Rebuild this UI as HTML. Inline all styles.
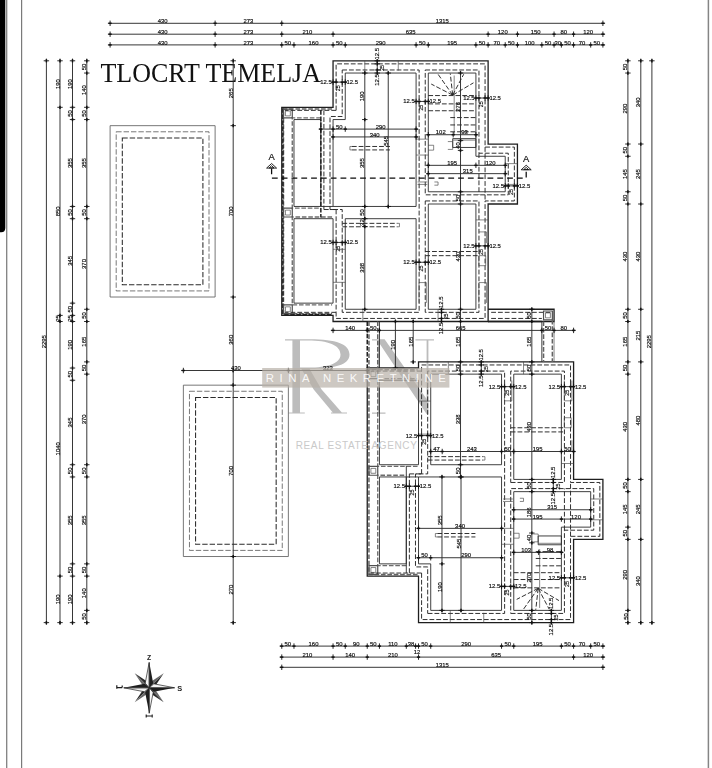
<!DOCTYPE html>
<html lang="hr"><head><meta charset="utf-8"><title>Tlocrt temelja</title>
<style>
html,body{margin:0;padding:0;background:#fff;}
body{width:712px;height:768px;overflow:hidden;font-family:"Liberation Sans",sans-serif;}
svg{display:block;}
.t{font-family:"Liberation Sans",sans-serif;fill:#111;stroke:#111;stroke-width:0.18;}
.tb{font-family:"Liberation Sans",sans-serif;fill:#1c1c1c;font-weight:bold;}
.so{fill:none;stroke:#1e1e1e;stroke-width:1.3;}
.si{fill:none;stroke:#2a2a2a;stroke-width:0.9;}
.th{fill:none;stroke:#444;stroke-width:0.65;}
.ds{fill:none;stroke:#262626;stroke-width:0.95;stroke-dasharray:4.8 2;}
.dk{fill:none;stroke:#222;stroke-width:1.5;stroke-dasharray:4.5 1.6;}
.gd{fill:none;stroke:#636363;stroke-width:1.5;stroke-dasharray:4.6 1.8;}
.gd2{fill:none;stroke:#6c6c6c;stroke-width:1.35;stroke-dasharray:4.6 1.8;}
.gs{fill:none;stroke:#505050;stroke-width:1.2;}
.dl{fill:none;stroke:#2c2c2c;stroke-width:0.95;}
.tk{fill:none;stroke:#111;stroke-width:0.9;}
.tk2{fill:none;stroke:#111;stroke-width:1.5;}
.po{fill:none;stroke:#555;stroke-width:0.8;}
.pd1{fill:none;stroke:#555;stroke-width:0.8;stroke-dasharray:5.4 2;}
.pd2{fill:none;stroke:#2a2a2a;stroke-width:1.05;stroke-dasharray:5.4 2;}
</style></head>
<body>
<svg width="712" height="768" viewBox="0 0 712 768">
<rect x="0" y="0" width="712" height="768" fill="#fff"/>
<g id="wm">
<g fill="#bcbcbc">
<path d="M285 339.2 H310 C336 339.2 349.5 344 349.5 354.5 C349.5 365 334 368.8 310 368.8 L300 368.8 V412.4 H304.8 V413.6 H288.6 V412.4 H292.4 V340.4 H285 Z M300 340.4 V367.6 H308 C328 367.6 340.5 363.5 340.5 354.5 C340.5 345 328 340.4 308 340.4 Z"/>
<path d="M301 368.6 H309.5 Q314 377 321.6 389.5 L341.8 412.4 H347 V413.6 H331 V412.4 H332.8 L313.7 389.5 Q307 378 301 368.6 Z"/>
<path d="M372 339.2 H383 V340.4 H372 Z M377.8 339.2 H379.5 V413.6 H377.8 Z M372 412.5 H385.5 V413.7 H372 Z M376.7 339.2 H384.6 L428.4 401.5 V414 H426.6 Z M426.6 339.2 H428.4 V414 H426.6 Z M415.4 339.2 H434 V340.4 H415.4 Z"/>
</g>
</g>
<g style="filter:grayscale(1)">
<g id="frame">
<path d="M0 0 H5.3 V228 Q5.3 232.2 1.2 232.2 H0 Z" fill="#000"/>
<path d="M6.7 0 V768" stroke="#808080" stroke-width="1.3" fill="none"/>
<path d="M21.6 0 V768" stroke="#7a7a7a" stroke-width="1.2" fill="none"/>
<path d="M708.4 0 V768" stroke="#858585" stroke-width="1.5" fill="none"/>
</g>
<text x="100.4" y="82.2" font-family="Liberation Serif, serif" font-size="27.5" fill="#111" textLength="220.5" lengthAdjust="spacingAndGlyphs">TLOCRT TEMELJA</text>
<path class="po" d="M110.1 125.67 L215.11 125.67 L215.11 297.03 L110.1 297.03 Z"/>
<path class="pd1" d="M116.2 131.79 L209 131.79 L209 290.91 L116.2 290.91 Z"/>
<path class="pd2" d="M122.31 137.91 L202.9 137.91 L202.9 284.79 L122.31 284.79 Z"/>
<path class="po" d="M183.36 385.16 L288.37 385.16 L288.37 556.52 L183.36 556.52 Z"/>
<path class="pd1" d="M189.46 391.28 L282.26 391.28 L282.26 550.4 L189.46 550.4 Z"/>
<path class="pd2" d="M195.57 397.4 L276.16 397.4 L276.16 544.28 L195.57 544.28 Z"/>
<g id="upper">
<g>
<path class="gd" d="M332.08 109.03 L283.48 109.03 L283.48 313.68 L332.08 313.68"/>
<path class="gd2" d="M320.84 117.84 L292.27 117.84 L292.27 208.17 L320.84 208.17"/>
<path class="gd2" d="M332.08 216.98 L292.27 216.98 L292.27 304.87 L332.08 304.87"/>
<path class="dk" d="M282.87 108.29 L282.87 314.41 L332.08 314.41"/>
<path class="gs" d="M283.48 109.03 L292.27 109.03 L292.27 117.84 L283.48 117.84 Z"/>
<path class="th" d="M285.44 110.98 L290.32 110.98 L290.32 115.88 L285.44 115.88 Z"/>
<path class="gs" d="M283.48 208.17 L292.27 208.17 L292.27 216.98 L283.48 216.98 Z"/>
<path class="th" d="M285.44 210.13 L290.32 210.13 L290.32 215.02 L285.44 215.02 Z"/>
<path class="gs" d="M283.48 304.87 L292.27 304.87 L292.27 313.68 L283.48 313.68 Z"/>
<path class="th" d="M285.44 306.82 L290.32 306.82 L290.32 311.72 L285.44 311.72 Z"/>
</g>
<path class="ds" d="M336.11 110.37 L336.11 63.86 L485.07 63.86 L485.07 147.09 L514.37 147.09 L514.37 200.95 L485.07 200.95 L485.07 318.45 L336.11 318.45 L336.11 312.33"/>
<path class="ds" d="M336.11 110.37 L284.83 110.37"/>
<path class="ds" d="M336.11 312.33 L284.83 312.33"/>
<path class="ds" d="M342.21 69.98 L419.14 69.98 L419.14 312.33 L342.21 312.33 L342.21 209.52 L330 209.52 L330 116.49 L342.21 116.49 Z"/>
<path class="ds" d="M323.9 209.52 L336.11 209.52"/>
<path class="ds" d="M425.24 69.98 L478.96 69.98 L478.96 153.21 L508.27 153.21 L508.27 194.83 L425.24 194.83 Z"/>
<path class="ds" d="M425.24 200.95 L478.96 200.95 L478.96 312.33 L425.24 312.33 Z"/>
<path class="ds" d="M323.9 110.37 L323.9 209.52"/>
<path class="ds" d="M336.11 209.52 L336.11 312.33"/>
<path class="ds" d="M478.96 153.21 L478.96 194.83"/>
<path class="ds" d="M485.07 147.09 L485.07 200.95"/>
<path class="so" d="M281.77 107.31 L333.05 107.31 L333.05 60.8 L488.12 60.8 L488.12 144.03 L517.43 144.03 L517.43 204.01 L488.12 204.01 L488.12 321.51 L333.05 321.51 L333.05 315.39 L281.77 315.39 Z"/>
<path class="si" d="M345.26 73.04 L416.08 73.04 L416.08 206.46 L333.05 206.46 L333.05 119.55 L345.26 119.55 Z"/>
<path class="si" d="M345.26 218.7 L416.08 218.7 L416.08 309.27 L345.26 309.27 Z"/>
<path class="si" d="M428.29 73.04 L475.91 73.04 L475.91 156.27 L505.22 156.27 L505.22 191.77 L428.29 191.77 Z"/>
<path class="si" d="M428.29 204.01 L475.91 204.01 L475.91 309.27 L428.29 309.27 Z"/>
<path class="si" d="M293.98 119.55 L320.84 119.55 L320.84 206.46 L293.98 206.46 Z"/>
<path class="si" d="M293.98 218.7 L333.05 218.7 L333.05 303.15 L293.98 303.15 Z"/>
<path class="dk" d="M320.84 110.37 L320.84 217.47"/>
<path class="si" d="M320.84 206.46 L333.05 206.46"/>
<path class="th" d="M416.08 139.14 L428.29 139.14"/>
<path class="th" d="M416.08 155.05 L428.29 155.05"/>
<path class="th" d="M475.91 219.92 L488.12 219.92"/>
<path class="th" d="M333.05 249.3 L345.26 249.3"/>
<path class="th" d="M333.05 282.34 L345.26 282.34"/>
<path class="th" d="M364.8 60.8 L364.8 73.04"/>
<path class="th" d="M398.26 60.8 L398.26 70.59"/>
<path class="th" d="M362.85 309.27 L362.85 321.51"/>
<path class="th" d="M438.06 309.27 L438.06 321.51"/>
<path class="th" d="M478.84 231.92 L486.41 231.92 L486.41 243.18"/>
<path class="th" d="M478.84 255.66 L485.68 255.66 L485.68 265.7 L478.84 265.7 Z"/>
<path class="th" d="M478.84 302.91 L478.84 282.59 L486.41 282.59 L486.41 302.91"/>
<path class="th" d="M419.01 302.91 L419.01 282.59 L426.34 282.59 L426.34 302.91"/>
<path class="ds" d="M351.86 146.48 L389.95 146.48"/>
<path class="ds" d="M351.86 149.91 L389.95 149.91"/>
<path class="th" d="M351.86 146.48 L349.9 146.48 L349.9 149.91 L351.86 149.91"/>
<path class="ds" d="M342.33 223.35 L397.52 223.35"/>
<path class="ds" d="M342.33 226.77 L397.52 226.77"/>
<path class="th" d="M397.52 223.35 L399.48 223.35 L399.48 226.77 L397.52 226.77"/>
<path class="ds" d="M425.24 251.5 L478.96 251.5"/>
<path class="ds" d="M425.24 255.66 L478.96 255.66"/>
<path class="ds" d="M452.71 95.07 L431.22 84.06"/>
<path class="ds" d="M452.71 95.07 L438.06 74.26"/>
<path class="ds" d="M452.71 95.07 L450.27 73.53"/>
<path class="ds" d="M452.71 95.07 L463.7 74.26"/>
<path class="ds" d="M452.71 95.07 L473.47 82.83"/>
<path class="th" d="M454.18 75.49 L454.18 134.24"/>
<path class="ds" d="M428.29 95.56 L475.91 95.56"/>
<path class="ds" d="M428.29 103.88 L475.91 103.88"/>
<path class="ds" d="M428.29 110.74 L475.91 110.74"/>
<path class="ds" d="M450.27 117.59 L475.91 117.59"/>
<path class="ds" d="M450.27 124.94 L475.91 124.94"/>
<path class="ds" d="M450.27 131.79 L475.91 131.79"/>
<path class="si" d="M452.71 138.65 L475.91 138.65 L475.91 147.46 L452.71 147.46 Z"/>
<path class="th" d="M452.71 140.12 L475.91 140.12"/>
<path class="th" d="M447.83 141.58 L452.71 141.58 L452.71 149.42 L447.83 149.42"/>
<path class="th" d="M428.29 145.26 L433.66 145.26 L433.66 150.15 L428.29 150.15"/>
<path class="th" d="M417.55 181.98 L427.32 181.98"/>
<path class="th" d="M417.55 184.42 L427.32 184.42"/>
<path class="th" d="M434.4 181.98 L438.06 181.98 L438.06 185.16 L434.4 185.16"/>
<path class="th" d="M505.22 163.62 L517.43 163.62"/>
<path class="th" d="M505.22 184.42 L517.43 184.42"/>
</g>
<g id="lower">
<g>
<path class="gd" d="M417.55 574.39 L368.95 574.39 L368.95 369.74 L417.55 369.74"/>
<path class="gd2" d="M406.31 565.58 L377.74 565.58 L377.74 475.25 L406.31 475.25"/>
<path class="gd2" d="M417.55 466.43 L377.74 466.43 L377.74 378.55 L417.55 378.55"/>
<path class="gs" d="M368.95 574.39 L377.74 574.39 L377.74 565.58 L368.95 565.58 Z"/>
<path class="th" d="M370.91 572.43 L375.79 572.43 L375.79 567.54 L370.91 567.54 Z"/>
<path class="gs" d="M368.95 475.25 L377.74 475.25 L377.74 466.43 L368.95 466.43 Z"/>
<path class="th" d="M370.91 473.29 L375.79 473.29 L375.79 468.39 L370.91 468.39 Z"/>
<path class="gs" d="M368.95 378.55 L377.74 378.55 L377.74 369.74 L368.95 369.74 Z"/>
<path class="th" d="M370.91 376.59 L375.79 376.59 L375.79 371.7 L370.91 371.7 Z"/>
</g>
<path class="ds" d="M421.58 573.04 L421.58 619.56 L570.54 619.56 L570.54 536.32 L599.84 536.32 L599.84 482.47 L570.54 482.47 L570.54 364.96 L421.58 364.96 L421.58 371.08"/>
<path class="ds" d="M421.58 573.04 L370.3 573.04"/>
<path class="ds" d="M421.58 371.08 L370.3 371.08"/>
<path class="ds" d="M427.68 613.44 L504.61 613.44 L504.61 371.08 L427.68 371.08 L427.68 473.9 L415.47 473.9 L415.47 566.92 L427.68 566.92 Z"/>
<path class="ds" d="M409.37 473.9 L421.58 473.9"/>
<path class="ds" d="M510.71 613.44 L564.43 613.44 L564.43 530.2 L593.74 530.2 L593.74 488.59 L510.71 488.59 Z"/>
<path class="ds" d="M510.71 482.47 L564.43 482.47 L564.43 371.08 L510.71 371.08 Z"/>
<path class="ds" d="M409.37 573.04 L409.37 473.9"/>
<path class="ds" d="M421.58 473.9 L421.58 371.08"/>
<path class="ds" d="M564.43 530.2 L564.43 488.59"/>
<path class="ds" d="M570.54 536.32 L570.54 482.47"/>
<path class="so" d="M367.24 576.1 L418.52 576.1 L418.52 622.62 L573.59 622.62 L573.59 539.38 L602.9 539.38 L602.9 479.41 L573.59 479.41 L573.59 361.9 L418.52 361.9 L418.52 368.02 L367.24 368.02 Z"/>
<path class="si" d="M430.73 610.38 L501.55 610.38 L501.55 476.96 L418.52 476.96 L418.52 563.86 L430.73 563.86 Z"/>
<path class="si" d="M430.73 464.72 L501.55 464.72 L501.55 374.14 L430.73 374.14 Z"/>
<path class="si" d="M513.76 610.38 L561.38 610.38 L561.38 527.14 L590.69 527.14 L590.69 491.65 L513.76 491.65 Z"/>
<path class="si" d="M513.76 479.41 L561.38 479.41 L561.38 374.14 L513.76 374.14 Z"/>
<path class="si" d="M379.45 563.86 L406.31 563.86 L406.31 476.96 L379.45 476.96 Z"/>
<path class="si" d="M379.45 464.72 L418.52 464.72 L418.52 380.26 L379.45 380.26 Z"/>
<path class="si" d="M406.31 573.04 L406.31 465.94"/>
<path class="si" d="M406.31 476.96 L418.52 476.96"/>
<path class="th" d="M501.55 544.28 L513.76 544.28"/>
<path class="th" d="M501.55 528.37 L513.76 528.37"/>
<path class="th" d="M561.38 463.5 L573.59 463.5"/>
<path class="th" d="M418.52 434.12 L430.73 434.12"/>
<path class="th" d="M418.52 401.07 L430.73 401.07"/>
<path class="th" d="M450.27 622.62 L450.27 610.38"/>
<path class="th" d="M483.73 622.62 L483.73 612.82"/>
<path class="th" d="M448.32 374.14 L448.32 361.9"/>
<path class="th" d="M523.53 374.14 L523.53 361.9"/>
<path class="th" d="M564.31 451.5 L571.88 451.5 L571.88 440.24"/>
<path class="th" d="M564.31 427.76 L571.15 427.76 L571.15 417.72 L564.31 417.72 Z"/>
<path class="th" d="M564.31 380.51 L564.31 400.83 L571.88 400.83 L571.88 380.51"/>
<path class="th" d="M504.48 380.51 L504.48 400.83 L511.81 400.83 L511.81 380.51"/>
<path class="ds" d="M437.33 536.94 L475.42 536.94"/>
<path class="ds" d="M437.33 533.51 L475.42 533.51"/>
<path class="th" d="M437.33 536.94 L435.37 536.94 L435.37 533.51 L437.33 533.51"/>
<path class="ds" d="M427.8 460.07 L482.99 460.07"/>
<path class="ds" d="M427.8 456.64 L482.99 456.64"/>
<path class="th" d="M482.99 460.07 L484.95 460.07 L484.95 456.64 L482.99 456.64"/>
<path class="ds" d="M510.71 431.92 L564.43 431.92"/>
<path class="ds" d="M510.71 427.76 L564.43 427.76"/>
<path class="ds" d="M538.18 588.34 L516.69 599.36"/>
<path class="ds" d="M538.18 588.34 L523.53 609.15"/>
<path class="ds" d="M538.18 588.34 L535.74 609.89"/>
<path class="ds" d="M538.18 588.34 L549.17 609.15"/>
<path class="ds" d="M538.18 588.34 L558.94 600.58"/>
<path class="th" d="M539.65 607.93 L539.65 549.18"/>
<path class="ds" d="M513.76 587.85 L561.38 587.85"/>
<path class="ds" d="M513.76 579.53 L561.38 579.53"/>
<path class="ds" d="M513.76 572.68 L561.38 572.68"/>
<path class="ds" d="M535.74 565.82 L561.38 565.82"/>
<path class="ds" d="M535.74 558.48 L561.38 558.48"/>
<path class="ds" d="M535.74 551.62 L561.38 551.62"/>
<path class="si" d="M538.18 544.77 L561.38 544.77 L561.38 535.96 L538.18 535.96 Z"/>
<path class="th" d="M538.18 543.3 L561.38 543.3"/>
<path class="th" d="M533.3 541.83 L538.18 541.83 L538.18 534 L533.3 534"/>
<path class="th" d="M513.76 538.16 L519.13 538.16 L519.13 533.26 L513.76 533.26"/>
<path class="th" d="M503.02 501.44 L512.79 501.44"/>
<path class="th" d="M503.02 498.99 L512.79 498.99"/>
<path class="th" d="M519.87 501.44 L523.53 501.44 L523.53 498.26 L519.87 498.26"/>
<path class="th" d="M590.69 519.8 L602.9 519.8"/>
<path class="th" d="M590.69 498.99 L602.9 498.99"/>
</g>
<g id="conn">
<path class="so" d="M488.12 309.27 L554.06 309.27 L554.06 321.51 L488.12 321.51"/>
<path class="so" d="M488.12 321.51 L541.85 321.51"/>
<path class="ds" d="M491.17 312.33 L550.88 312.33"/>
<path class="ds" d="M491.17 318.45 L541.85 318.45"/>
<path class="gs" d="M543.55 310.99 L552.35 310.99 L552.35 319.8 L543.55 319.8 Z"/>
<path class="th" d="M545.51 312.94 L550.39 312.94 L550.39 317.84 L545.51 317.84 Z"/>
<path class="si" d="M541.85 321.51 L541.85 361.9"/>
<path class="gd" d="M543.55 321.51 L543.55 361.9"/>
<path class="gd" d="M552.35 319.8 L552.35 361.9"/>
<path class="th" d="M554.06 321.51 L554.06 361.9"/>
<path class="dk" d="M367.24 321.51 L367.24 368.02"/>
<path class="gd" d="M368.95 321.51 L368.95 368.02"/>
<path class="gd" d="M377.74 321.51 L377.74 368.02"/>
<path class="si" d="M379.45 321.51 L379.45 368.02"/>
</g>
<g id="dims">
<path class="dl" d="M107.9 23.3 H605.1"/>
<path class="tk" d="M110.1 20.6 v5.4"/>
<path class="tk2" d="M108.5 23.3 h3.2"/>
<path class="tk" d="M215.11 20.6 v5.4"/>
<path class="tk2" d="M213.51 23.3 h3.2"/>
<path class="tk" d="M281.77 20.6 v5.4"/>
<path class="tk2" d="M280.17 23.3 h3.2"/>
<path class="tk" d="M602.9 20.6 v5.4"/>
<path class="tk2" d="M601.3 23.3 h3.2"/>
<text class="t" x="162.6" y="22.9" font-size="5.9" text-anchor="middle">430</text>
<text class="t" x="248.44" y="22.9" font-size="5.9" text-anchor="middle">273</text>
<text class="t" x="442.33" y="22.9" font-size="5.9" text-anchor="middle">1315</text>
<path class="dl" d="M107.9 34.2 H605.1"/>
<path class="tk" d="M110.1 31.5 v5.4"/>
<path class="tk2" d="M108.5 34.2 h3.2"/>
<path class="tk" d="M215.11 31.5 v5.4"/>
<path class="tk2" d="M213.51 34.2 h3.2"/>
<path class="tk" d="M281.77 31.5 v5.4"/>
<path class="tk2" d="M280.17 34.2 h3.2"/>
<path class="tk" d="M333.05 31.5 v5.4"/>
<path class="tk2" d="M331.45 34.2 h3.2"/>
<path class="tk" d="M488.12 31.5 v5.4"/>
<path class="tk2" d="M486.52 34.2 h3.2"/>
<path class="tk" d="M517.43 31.5 v5.4"/>
<path class="tk2" d="M515.83 34.2 h3.2"/>
<path class="tk" d="M554.06 31.5 v5.4"/>
<path class="tk2" d="M552.46 34.2 h3.2"/>
<path class="tk" d="M573.59 31.5 v5.4"/>
<path class="tk2" d="M571.99 34.2 h3.2"/>
<path class="tk" d="M602.9 31.5 v5.4"/>
<path class="tk2" d="M601.3 34.2 h3.2"/>
<text class="t" x="162.6" y="33.8" font-size="5.9" text-anchor="middle">430</text>
<text class="t" x="248.44" y="33.8" font-size="5.9" text-anchor="middle">273</text>
<text class="t" x="307.41" y="33.8" font-size="5.9" text-anchor="middle">210</text>
<text class="t" x="410.59" y="33.8" font-size="5.9" text-anchor="middle">635</text>
<text class="t" x="502.77" y="33.8" font-size="5.9" text-anchor="middle">120</text>
<text class="t" x="535.74" y="33.8" font-size="5.9" text-anchor="middle">150</text>
<text class="t" x="563.82" y="33.8" font-size="5.9" text-anchor="middle">80</text>
<text class="t" x="588.24" y="33.8" font-size="5.9" text-anchor="middle">120</text>
<path class="dl" d="M107.9 44.9 H605.1"/>
<path class="tk" d="M110.1 42.2 v5.4"/>
<path class="tk2" d="M108.5 44.9 h3.2"/>
<path class="tk" d="M215.11 42.2 v5.4"/>
<path class="tk2" d="M213.51 44.9 h3.2"/>
<path class="tk" d="M281.77 42.2 v5.4"/>
<path class="tk2" d="M280.17 44.9 h3.2"/>
<path class="tk" d="M293.98 42.2 v5.4"/>
<path class="tk2" d="M292.38 44.9 h3.2"/>
<path class="tk" d="M333.05 42.2 v5.4"/>
<path class="tk2" d="M331.45 44.9 h3.2"/>
<path class="tk" d="M345.26 42.2 v5.4"/>
<path class="tk2" d="M343.66 44.9 h3.2"/>
<path class="tk" d="M416.08 42.2 v5.4"/>
<path class="tk2" d="M414.48 44.9 h3.2"/>
<path class="tk" d="M428.29 42.2 v5.4"/>
<path class="tk2" d="M426.69 44.9 h3.2"/>
<path class="tk" d="M475.91 42.2 v5.4"/>
<path class="tk2" d="M474.31 44.9 h3.2"/>
<path class="tk" d="M488.12 42.2 v5.4"/>
<path class="tk2" d="M486.52 44.9 h3.2"/>
<path class="tk" d="M505.22 42.2 v5.4"/>
<path class="tk2" d="M503.62 44.9 h3.2"/>
<path class="tk" d="M517.43 42.2 v5.4"/>
<path class="tk2" d="M515.83 44.9 h3.2"/>
<path class="tk" d="M541.85 42.2 v5.4"/>
<path class="tk2" d="M540.25 44.9 h3.2"/>
<path class="tk" d="M554.06 42.2 v5.4"/>
<path class="tk2" d="M552.46 44.9 h3.2"/>
<path class="tk" d="M561.38 42.2 v5.4"/>
<path class="tk2" d="M559.78 44.9 h3.2"/>
<path class="tk" d="M573.59 42.2 v5.4"/>
<path class="tk2" d="M571.99 44.9 h3.2"/>
<path class="tk" d="M590.69 42.2 v5.4"/>
<path class="tk2" d="M589.09 44.9 h3.2"/>
<path class="tk" d="M602.9 42.2 v5.4"/>
<path class="tk2" d="M601.3 44.9 h3.2"/>
<text class="t" x="162.6" y="44.5" font-size="5.9" text-anchor="middle">430</text>
<text class="t" x="248.44" y="44.5" font-size="5.9" text-anchor="middle">273</text>
<text class="t" x="287.88" y="44.5" font-size="5.9" text-anchor="middle">50</text>
<text class="t" x="313.52" y="44.5" font-size="5.9" text-anchor="middle">160</text>
<text class="t" x="339.16" y="44.5" font-size="5.9" text-anchor="middle">50</text>
<text class="t" x="380.67" y="44.5" font-size="5.9" text-anchor="middle">290</text>
<text class="t" x="422.19" y="44.5" font-size="5.9" text-anchor="middle">50</text>
<text class="t" x="452.1" y="44.5" font-size="5.9" text-anchor="middle">195</text>
<text class="t" x="482.02" y="44.5" font-size="5.9" text-anchor="middle">50</text>
<text class="t" x="496.67" y="44.5" font-size="5.9" text-anchor="middle">70</text>
<text class="t" x="511.32" y="44.5" font-size="5.9" text-anchor="middle">50</text>
<text class="t" x="529.64" y="44.5" font-size="5.9" text-anchor="middle">100</text>
<text class="t" x="547.95" y="44.5" font-size="5.9" text-anchor="middle">50</text>
<text class="t" x="557.72" y="44.5" font-size="5.9" text-anchor="middle">30</text>
<text class="t" x="567.49" y="44.5" font-size="5.9" text-anchor="middle">50</text>
<text class="t" x="582.14" y="44.5" font-size="5.9" text-anchor="middle">70</text>
<text class="t" x="596.79" y="44.5" font-size="5.9" text-anchor="middle">50</text>
<path class="dl" d="M279.57 646.1 H605.1"/>
<path class="tk" d="M281.77 643.4 v5.4"/>
<path class="tk2" d="M280.17 646.1 h3.2"/>
<path class="tk" d="M293.98 643.4 v5.4"/>
<path class="tk2" d="M292.38 646.1 h3.2"/>
<path class="tk" d="M333.05 643.4 v5.4"/>
<path class="tk2" d="M331.45 646.1 h3.2"/>
<path class="tk" d="M345.26 643.4 v5.4"/>
<path class="tk2" d="M343.66 646.1 h3.2"/>
<path class="tk" d="M367.24 643.4 v5.4"/>
<path class="tk2" d="M365.64 646.1 h3.2"/>
<path class="tk" d="M379.45 643.4 v5.4"/>
<path class="tk2" d="M377.85 646.1 h3.2"/>
<path class="tk" d="M406.31 643.4 v5.4"/>
<path class="tk2" d="M404.71 646.1 h3.2"/>
<path class="tk" d="M415.59 643.4 v5.4"/>
<path class="tk2" d="M413.99 646.1 h3.2"/>
<path class="tk" d="M418.52 643.4 v5.4"/>
<path class="tk2" d="M416.92 646.1 h3.2"/>
<path class="tk" d="M430.73 643.4 v5.4"/>
<path class="tk2" d="M429.13 646.1 h3.2"/>
<path class="tk" d="M501.55 643.4 v5.4"/>
<path class="tk2" d="M499.95 646.1 h3.2"/>
<path class="tk" d="M513.76 643.4 v5.4"/>
<path class="tk2" d="M512.16 646.1 h3.2"/>
<path class="tk" d="M561.38 643.4 v5.4"/>
<path class="tk2" d="M559.78 646.1 h3.2"/>
<path class="tk" d="M573.59 643.4 v5.4"/>
<path class="tk2" d="M571.99 646.1 h3.2"/>
<path class="tk" d="M590.69 643.4 v5.4"/>
<path class="tk2" d="M589.09 646.1 h3.2"/>
<path class="tk" d="M602.9 643.4 v5.4"/>
<path class="tk2" d="M601.3 646.1 h3.2"/>
<text class="t" x="287.88" y="645.7" font-size="5.9" text-anchor="middle">50</text>
<text class="t" x="313.52" y="645.7" font-size="5.9" text-anchor="middle">160</text>
<text class="t" x="339.16" y="645.7" font-size="5.9" text-anchor="middle">50</text>
<text class="t" x="356.25" y="645.7" font-size="5.9" text-anchor="middle">90</text>
<text class="t" x="373.35" y="645.7" font-size="5.9" text-anchor="middle">50</text>
<text class="t" x="392.88" y="645.7" font-size="5.9" text-anchor="middle">110</text>
<text class="t" x="410.95" y="645.7" font-size="5.9" text-anchor="middle">38</text>
<text class="t" x="417.06" y="653.6" font-size="5.9" text-anchor="middle">12</text>
<text class="t" x="424.63" y="645.7" font-size="5.9" text-anchor="middle">50</text>
<text class="t" x="466.14" y="645.7" font-size="5.9" text-anchor="middle">290</text>
<text class="t" x="507.66" y="645.7" font-size="5.9" text-anchor="middle">50</text>
<text class="t" x="537.57" y="645.7" font-size="5.9" text-anchor="middle">195</text>
<text class="t" x="567.49" y="645.7" font-size="5.9" text-anchor="middle">50</text>
<text class="t" x="582.14" y="645.7" font-size="5.9" text-anchor="middle">70</text>
<text class="t" x="596.79" y="645.7" font-size="5.9" text-anchor="middle">50</text>
<path class="dl" d="M279.57 657.1 H605.1"/>
<path class="tk" d="M281.77 654.4 v5.4"/>
<path class="tk2" d="M280.17 657.1 h3.2"/>
<path class="tk" d="M333.05 654.4 v5.4"/>
<path class="tk2" d="M331.45 657.1 h3.2"/>
<path class="tk" d="M367.24 654.4 v5.4"/>
<path class="tk2" d="M365.64 657.1 h3.2"/>
<path class="tk" d="M418.52 654.4 v5.4"/>
<path class="tk2" d="M416.92 657.1 h3.2"/>
<path class="tk" d="M573.59 654.4 v5.4"/>
<path class="tk2" d="M571.99 657.1 h3.2"/>
<path class="tk" d="M602.9 654.4 v5.4"/>
<path class="tk2" d="M601.3 657.1 h3.2"/>
<text class="t" x="307.41" y="656.7" font-size="5.9" text-anchor="middle">210</text>
<text class="t" x="350.15" y="656.7" font-size="5.9" text-anchor="middle">140</text>
<text class="t" x="392.88" y="656.7" font-size="5.9" text-anchor="middle">210</text>
<text class="t" x="496.06" y="656.7" font-size="5.9" text-anchor="middle">635</text>
<text class="t" x="588.24" y="656.7" font-size="5.9" text-anchor="middle">120</text>
<path class="dl" d="M279.57 667.3 H605.1"/>
<path class="tk" d="M281.77 664.6 v5.4"/>
<path class="tk2" d="M280.17 667.3 h3.2"/>
<path class="tk" d="M602.9 664.6 v5.4"/>
<path class="tk2" d="M601.3 667.3 h3.2"/>
<text class="t" x="442.33" y="666.9" font-size="5.9" text-anchor="middle">1315</text>
<path class="dl" d="M46.4 58.6 V624.82"/>
<path class="tk" d="M43.7 60.8 h5.4"/>
<path class="tk2" d="M46.4 59.2 v3.2"/>
<path class="tk" d="M43.7 622.62 h5.4"/>
<path class="tk2" d="M46.4 621.02 v3.2"/>
<text class="t" x="46" y="341.71" font-size="5.9" text-anchor="middle" transform="rotate(-90 46 341.71)">2295</text>
<path class="dl" d="M60 58.6 V624.82"/>
<path class="tk" d="M57.3 60.8 h5.4"/>
<path class="tk2" d="M60 59.2 v3.2"/>
<path class="tk" d="M57.3 107.31 h5.4"/>
<path class="tk2" d="M60 105.71 v3.2"/>
<path class="tk" d="M57.3 315.39 h5.4"/>
<path class="tk2" d="M60 313.79 v3.2"/>
<path class="tk" d="M57.3 321.51 h5.4"/>
<path class="tk2" d="M60 319.91 v3.2"/>
<path class="tk" d="M57.3 576.1 h5.4"/>
<path class="tk2" d="M60 574.5 v3.2"/>
<path class="tk" d="M57.3 622.62 h5.4"/>
<path class="tk2" d="M60 621.02 v3.2"/>
<text class="t" x="59.6" y="84.06" font-size="5.9" text-anchor="middle" transform="rotate(-90 59.6 84.06)">190</text>
<text class="t" x="59.6" y="211.35" font-size="5.9" text-anchor="middle" transform="rotate(-90 59.6 211.35)">850</text>
<text class="t" x="59.6" y="318.45" font-size="5.9" text-anchor="middle" transform="rotate(-90 59.6 318.45)">25</text>
<text class="t" x="59.6" y="448.81" font-size="5.9" text-anchor="middle" transform="rotate(-90 59.6 448.81)">1040</text>
<text class="t" x="59.6" y="599.36" font-size="5.9" text-anchor="middle" transform="rotate(-90 59.6 599.36)">190</text>
<path class="dl" d="M72.5 58.6 V624.82"/>
<path class="tk" d="M69.8 60.8 h5.4"/>
<path class="tk2" d="M72.5 59.2 v3.2"/>
<path class="tk" d="M69.8 107.31 h5.4"/>
<path class="tk2" d="M72.5 105.71 v3.2"/>
<path class="tk" d="M69.8 119.55 h5.4"/>
<path class="tk2" d="M72.5 117.95 v3.2"/>
<path class="tk" d="M69.8 206.46 h5.4"/>
<path class="tk2" d="M72.5 204.86 v3.2"/>
<path class="tk" d="M69.8 218.7 h5.4"/>
<path class="tk2" d="M72.5 217.1 v3.2"/>
<path class="tk" d="M69.8 303.15 h5.4"/>
<path class="tk2" d="M72.5 301.55 v3.2"/>
<path class="tk" d="M69.8 315.39 h5.4"/>
<path class="tk2" d="M72.5 313.79 v3.2"/>
<path class="tk" d="M69.8 321.51 h5.4"/>
<path class="tk2" d="M72.5 319.91 v3.2"/>
<path class="tk" d="M69.8 368.02 h5.4"/>
<path class="tk2" d="M72.5 366.42 v3.2"/>
<path class="tk" d="M69.8 380.26 h5.4"/>
<path class="tk2" d="M72.5 378.66 v3.2"/>
<path class="tk" d="M69.8 464.72 h5.4"/>
<path class="tk2" d="M72.5 463.12 v3.2"/>
<path class="tk" d="M69.8 476.96 h5.4"/>
<path class="tk2" d="M72.5 475.36 v3.2"/>
<path class="tk" d="M69.8 563.86 h5.4"/>
<path class="tk2" d="M72.5 562.26 v3.2"/>
<path class="tk" d="M69.8 576.1 h5.4"/>
<path class="tk2" d="M72.5 574.5 v3.2"/>
<path class="tk" d="M69.8 622.62 h5.4"/>
<path class="tk2" d="M72.5 621.02 v3.2"/>
<text class="t" x="72.1" y="84.06" font-size="5.9" text-anchor="middle" transform="rotate(-90 72.1 84.06)">190</text>
<text class="t" x="72.1" y="113.43" font-size="5.9" text-anchor="middle" transform="rotate(-90 72.1 113.43)">50</text>
<text class="t" x="72.1" y="163" font-size="5.9" text-anchor="middle" transform="rotate(-90 72.1 163)">355</text>
<text class="t" x="72.1" y="212.58" font-size="5.9" text-anchor="middle" transform="rotate(-90 72.1 212.58)">50</text>
<text class="t" x="72.1" y="260.92" font-size="5.9" text-anchor="middle" transform="rotate(-90 72.1 260.92)">345</text>
<text class="t" x="72.1" y="309.27" font-size="5.9" text-anchor="middle" transform="rotate(-90 72.1 309.27)">50</text>
<text class="t" x="72.1" y="318.45" font-size="5.9" text-anchor="middle" transform="rotate(-90 72.1 318.45)">25</text>
<text class="t" x="72.1" y="344.77" font-size="5.9" text-anchor="middle" transform="rotate(-90 72.1 344.77)">190</text>
<text class="t" x="72.1" y="374.14" font-size="5.9" text-anchor="middle" transform="rotate(-90 72.1 374.14)">50</text>
<text class="t" x="72.1" y="422.49" font-size="5.9" text-anchor="middle" transform="rotate(-90 72.1 422.49)">345</text>
<text class="t" x="72.1" y="470.84" font-size="5.9" text-anchor="middle" transform="rotate(-90 72.1 470.84)">50</text>
<text class="t" x="72.1" y="520.41" font-size="5.9" text-anchor="middle" transform="rotate(-90 72.1 520.41)">355</text>
<text class="t" x="72.1" y="569.98" font-size="5.9" text-anchor="middle" transform="rotate(-90 72.1 569.98)">50</text>
<text class="t" x="72.1" y="599.36" font-size="5.9" text-anchor="middle" transform="rotate(-90 72.1 599.36)">190</text>
<path class="dl" d="M86.8 58.6 V624.82"/>
<path class="tk" d="M84.1 60.8 h5.4"/>
<path class="tk2" d="M86.8 59.2 v3.2"/>
<path class="tk" d="M84.1 73.04 h5.4"/>
<path class="tk2" d="M86.8 71.44 v3.2"/>
<path class="tk" d="M84.1 107.31 h5.4"/>
<path class="tk2" d="M86.8 105.71 v3.2"/>
<path class="tk" d="M84.1 119.55 h5.4"/>
<path class="tk2" d="M86.8 117.95 v3.2"/>
<path class="tk" d="M84.1 206.46 h5.4"/>
<path class="tk2" d="M86.8 204.86 v3.2"/>
<path class="tk" d="M84.1 218.7 h5.4"/>
<path class="tk2" d="M86.8 217.1 v3.2"/>
<path class="tk" d="M84.1 309.27 h5.4"/>
<path class="tk2" d="M86.8 307.67 v3.2"/>
<path class="tk" d="M84.1 321.51 h5.4"/>
<path class="tk2" d="M86.8 319.91 v3.2"/>
<path class="tk" d="M84.1 361.9 h5.4"/>
<path class="tk2" d="M86.8 360.3 v3.2"/>
<path class="tk" d="M84.1 374.14 h5.4"/>
<path class="tk2" d="M86.8 372.54 v3.2"/>
<path class="tk" d="M84.1 464.72 h5.4"/>
<path class="tk2" d="M86.8 463.12 v3.2"/>
<path class="tk" d="M84.1 476.96 h5.4"/>
<path class="tk2" d="M86.8 475.36 v3.2"/>
<path class="tk" d="M84.1 563.86 h5.4"/>
<path class="tk2" d="M86.8 562.26 v3.2"/>
<path class="tk" d="M84.1 576.1 h5.4"/>
<path class="tk2" d="M86.8 574.5 v3.2"/>
<path class="tk" d="M84.1 610.38 h5.4"/>
<path class="tk2" d="M86.8 608.78 v3.2"/>
<path class="tk" d="M84.1 622.62 h5.4"/>
<path class="tk2" d="M86.8 621.02 v3.2"/>
<text class="t" x="86.4" y="66.92" font-size="5.9" text-anchor="middle" transform="rotate(-90 86.4 66.92)">50</text>
<text class="t" x="86.4" y="90.18" font-size="5.9" text-anchor="middle" transform="rotate(-90 86.4 90.18)">140</text>
<text class="t" x="86.4" y="113.43" font-size="5.9" text-anchor="middle" transform="rotate(-90 86.4 113.43)">50</text>
<text class="t" x="86.4" y="163" font-size="5.9" text-anchor="middle" transform="rotate(-90 86.4 163)">355</text>
<text class="t" x="86.4" y="212.58" font-size="5.9" text-anchor="middle" transform="rotate(-90 86.4 212.58)">50</text>
<text class="t" x="86.4" y="263.98" font-size="5.9" text-anchor="middle" transform="rotate(-90 86.4 263.98)">370</text>
<text class="t" x="86.4" y="315.39" font-size="5.9" text-anchor="middle" transform="rotate(-90 86.4 315.39)">50</text>
<text class="t" x="86.4" y="341.71" font-size="5.9" text-anchor="middle" transform="rotate(-90 86.4 341.71)">165</text>
<text class="t" x="86.4" y="368.02" font-size="5.9" text-anchor="middle" transform="rotate(-90 86.4 368.02)">50</text>
<text class="t" x="86.4" y="419.43" font-size="5.9" text-anchor="middle" transform="rotate(-90 86.4 419.43)">370</text>
<text class="t" x="86.4" y="470.84" font-size="5.9" text-anchor="middle" transform="rotate(-90 86.4 470.84)">50</text>
<text class="t" x="86.4" y="520.41" font-size="5.9" text-anchor="middle" transform="rotate(-90 86.4 520.41)">355</text>
<text class="t" x="86.4" y="569.98" font-size="5.9" text-anchor="middle" transform="rotate(-90 86.4 569.98)">50</text>
<text class="t" x="86.4" y="593.24" font-size="5.9" text-anchor="middle" transform="rotate(-90 86.4 593.24)">140</text>
<text class="t" x="86.4" y="616.5" font-size="5.9" text-anchor="middle" transform="rotate(-90 86.4 616.5)">50</text>
<path class="dl" d="M627.9 58.6 V624.82"/>
<path class="tk" d="M625.2 60.8 h5.4"/>
<path class="tk2" d="M627.9 59.2 v3.2"/>
<path class="tk" d="M625.2 73.04 h5.4"/>
<path class="tk2" d="M627.9 71.44 v3.2"/>
<path class="tk" d="M625.2 144.03 h5.4"/>
<path class="tk2" d="M627.9 142.43 v3.2"/>
<path class="tk" d="M625.2 156.27 h5.4"/>
<path class="tk2" d="M627.9 154.67 v3.2"/>
<path class="tk" d="M625.2 191.77 h5.4"/>
<path class="tk2" d="M627.9 190.17 v3.2"/>
<path class="tk" d="M625.2 204.01 h5.4"/>
<path class="tk2" d="M627.9 202.41 v3.2"/>
<path class="tk" d="M625.2 309.27 h5.4"/>
<path class="tk2" d="M627.9 307.67 v3.2"/>
<path class="tk" d="M625.2 321.51 h5.4"/>
<path class="tk2" d="M627.9 319.91 v3.2"/>
<path class="tk" d="M625.2 361.9 h5.4"/>
<path class="tk2" d="M627.9 360.3 v3.2"/>
<path class="tk" d="M625.2 374.14 h5.4"/>
<path class="tk2" d="M627.9 372.54 v3.2"/>
<path class="tk" d="M625.2 479.41 h5.4"/>
<path class="tk2" d="M627.9 477.81 v3.2"/>
<path class="tk" d="M625.2 491.65 h5.4"/>
<path class="tk2" d="M627.9 490.05 v3.2"/>
<path class="tk" d="M625.2 527.14 h5.4"/>
<path class="tk2" d="M627.9 525.54 v3.2"/>
<path class="tk" d="M625.2 539.38 h5.4"/>
<path class="tk2" d="M627.9 537.78 v3.2"/>
<path class="tk" d="M625.2 610.38 h5.4"/>
<path class="tk2" d="M627.9 608.78 v3.2"/>
<path class="tk" d="M625.2 622.62 h5.4"/>
<path class="tk2" d="M627.9 621.02 v3.2"/>
<text class="t" x="627.5" y="66.92" font-size="5.9" text-anchor="middle" transform="rotate(-90 627.5 66.92)">50</text>
<text class="t" x="627.5" y="108.54" font-size="5.9" text-anchor="middle" transform="rotate(-90 627.5 108.54)">290</text>
<text class="t" x="627.5" y="150.15" font-size="5.9" text-anchor="middle" transform="rotate(-90 627.5 150.15)">50</text>
<text class="t" x="627.5" y="174.02" font-size="5.9" text-anchor="middle" transform="rotate(-90 627.5 174.02)">145</text>
<text class="t" x="627.5" y="197.89" font-size="5.9" text-anchor="middle" transform="rotate(-90 627.5 197.89)">50</text>
<text class="t" x="627.5" y="256.64" font-size="5.9" text-anchor="middle" transform="rotate(-90 627.5 256.64)">430</text>
<text class="t" x="627.5" y="315.39" font-size="5.9" text-anchor="middle" transform="rotate(-90 627.5 315.39)">50</text>
<text class="t" x="627.5" y="341.71" font-size="5.9" text-anchor="middle" transform="rotate(-90 627.5 341.71)">165</text>
<text class="t" x="627.5" y="368.02" font-size="5.9" text-anchor="middle" transform="rotate(-90 627.5 368.02)">50</text>
<text class="t" x="627.5" y="426.78" font-size="5.9" text-anchor="middle" transform="rotate(-90 627.5 426.78)">430</text>
<text class="t" x="627.5" y="485.53" font-size="5.9" text-anchor="middle" transform="rotate(-90 627.5 485.53)">50</text>
<text class="t" x="627.5" y="509.4" font-size="5.9" text-anchor="middle" transform="rotate(-90 627.5 509.4)">145</text>
<text class="t" x="627.5" y="533.26" font-size="5.9" text-anchor="middle" transform="rotate(-90 627.5 533.26)">50</text>
<text class="t" x="627.5" y="574.88" font-size="5.9" text-anchor="middle" transform="rotate(-90 627.5 574.88)">290</text>
<text class="t" x="627.5" y="616.5" font-size="5.9" text-anchor="middle" transform="rotate(-90 627.5 616.5)">50</text>
<path class="dl" d="M640.8 58.6 V624.82"/>
<path class="tk" d="M638.1 60.8 h5.4"/>
<path class="tk2" d="M640.8 59.2 v3.2"/>
<path class="tk" d="M638.1 144.03 h5.4"/>
<path class="tk2" d="M640.8 142.43 v3.2"/>
<path class="tk" d="M638.1 204.01 h5.4"/>
<path class="tk2" d="M640.8 202.41 v3.2"/>
<path class="tk" d="M638.1 309.27 h5.4"/>
<path class="tk2" d="M640.8 307.67 v3.2"/>
<path class="tk" d="M638.1 361.9 h5.4"/>
<path class="tk2" d="M640.8 360.3 v3.2"/>
<path class="tk" d="M638.1 479.41 h5.4"/>
<path class="tk2" d="M640.8 477.81 v3.2"/>
<path class="tk" d="M638.1 539.38 h5.4"/>
<path class="tk2" d="M640.8 537.78 v3.2"/>
<path class="tk" d="M638.1 622.62 h5.4"/>
<path class="tk2" d="M640.8 621.02 v3.2"/>
<text class="t" x="640.4" y="102.42" font-size="5.9" text-anchor="middle" transform="rotate(-90 640.4 102.42)">340</text>
<text class="t" x="640.4" y="174.02" font-size="5.9" text-anchor="middle" transform="rotate(-90 640.4 174.02)">245</text>
<text class="t" x="640.4" y="256.64" font-size="5.9" text-anchor="middle" transform="rotate(-90 640.4 256.64)">430</text>
<text class="t" x="640.4" y="335.59" font-size="5.9" text-anchor="middle" transform="rotate(-90 640.4 335.59)">215</text>
<text class="t" x="640.4" y="420.66" font-size="5.9" text-anchor="middle" transform="rotate(-90 640.4 420.66)">480</text>
<text class="t" x="640.4" y="509.4" font-size="5.9" text-anchor="middle" transform="rotate(-90 640.4 509.4)">245</text>
<text class="t" x="640.4" y="581" font-size="5.9" text-anchor="middle" transform="rotate(-90 640.4 581)">340</text>
<path class="dl" d="M651.9 58.6 V624.82"/>
<path class="tk" d="M649.2 60.8 h5.4"/>
<path class="tk2" d="M651.9 59.2 v3.2"/>
<path class="tk" d="M649.2 622.62 h5.4"/>
<path class="tk2" d="M651.9 621.02 v3.2"/>
<text class="t" x="651.5" y="341.71" font-size="5.9" text-anchor="middle" transform="rotate(-90 651.5 341.71)">2295</text>
<path class="dl" d="M233.2 58.6 V372.67"/>
<path class="tk" d="M230.5 60.8 h5.4"/>
<path class="tk2" d="M233.2 59.2 v3.2"/>
<path class="tk" d="M230.5 125.67 h5.4"/>
<path class="tk2" d="M233.2 124.07 v3.2"/>
<path class="tk" d="M230.5 297.03 h5.4"/>
<path class="tk2" d="M233.2 295.43 v3.2"/>
<path class="tk" d="M230.5 370.47 h5.4"/>
<path class="tk2" d="M233.2 368.87 v3.2"/>
<text class="t" x="232.8" y="93.24" font-size="5.9" text-anchor="middle" transform="rotate(-90 232.8 93.24)">265</text>
<text class="t" x="232.8" y="211.35" font-size="5.9" text-anchor="middle" transform="rotate(-90 232.8 211.35)">700</text>
<text class="t" x="232.8" y="339.75" font-size="5.9" text-anchor="middle" transform="rotate(-90 232.8 339.75)">360</text>
<path class="dl" d="M233.2 382.96 V624.82"/>
<path class="tk" d="M230.5 385.16 h5.4"/>
<path class="tk2" d="M233.2 383.56 v3.2"/>
<path class="tk" d="M230.5 556.52 h5.4"/>
<path class="tk2" d="M233.2 554.92 v3.2"/>
<path class="tk" d="M230.5 622.62 h5.4"/>
<path class="tk2" d="M233.2 621.02 v3.2"/>
<text class="t" x="232.8" y="470.84" font-size="5.9" text-anchor="middle" transform="rotate(-90 232.8 470.84)">700</text>
<text class="t" x="232.8" y="589.57" font-size="5.9" text-anchor="middle" transform="rotate(-90 232.8 589.57)">270</text>
<path class="dl" d="M233.2 370.47 V385.16"/>
<path class="dl" d="M181.16 370.5 H369.44"/>
<path class="tk" d="M183.36 367.8 v5.4"/>
<path class="tk2" d="M181.76 370.5 h3.2"/>
<path class="tk" d="M288.37 367.8 v5.4"/>
<path class="tk2" d="M286.77 370.5 h3.2"/>
<path class="tk" d="M367.24 367.8 v5.4"/>
<path class="tk2" d="M365.64 370.5 h3.2"/>
<text class="t" x="235.86" y="370.1" font-size="5.9" text-anchor="middle">430</text>
<text class="t" x="327.8" y="370.1" font-size="5.9" text-anchor="middle">323</text>
<path class="dl" d="M330.85 330.4 H575.79"/>
<path class="tk" d="M333.05 327.7 v5.4"/>
<path class="tk2" d="M331.45 330.4 h3.2"/>
<path class="tk" d="M367.24 327.7 v5.4"/>
<path class="tk2" d="M365.64 330.4 h3.2"/>
<path class="tk" d="M379.45 327.7 v5.4"/>
<path class="tk2" d="M377.85 330.4 h3.2"/>
<path class="tk" d="M541.85 327.7 v5.4"/>
<path class="tk2" d="M540.25 330.4 h3.2"/>
<path class="tk" d="M554.06 327.7 v5.4"/>
<path class="tk2" d="M552.46 330.4 h3.2"/>
<path class="tk" d="M573.59 327.7 v5.4"/>
<path class="tk2" d="M571.99 330.4 h3.2"/>
<text class="t" x="350.15" y="330" font-size="5.9" text-anchor="middle">140</text>
<text class="t" x="373.35" y="330" font-size="5.9" text-anchor="middle">50</text>
<text class="t" x="460.65" y="330" font-size="5.9" text-anchor="middle">665</text>
<text class="t" x="547.95" y="330" font-size="5.9" text-anchor="middle">50</text>
<text class="t" x="563.82" y="330" font-size="5.9" text-anchor="middle">80</text>
<path class="dl" d="M395.4 319.31 V370.22"/>
<path class="tk" d="M392.7 321.51 h5.4"/>
<path class="tk2" d="M395.4 319.91 v3.2"/>
<path class="tk" d="M392.7 368.02 h5.4"/>
<path class="tk2" d="M395.4 366.42 v3.2"/>
<text class="t" x="395" y="344.77" font-size="5.9" text-anchor="middle" transform="rotate(-90 395 344.77)">190</text>
<path class="dl" d="M413.2 319.31 V364.1"/>
<path class="tk" d="M410.5 321.51 h5.4"/>
<path class="tk2" d="M413.2 319.91 v3.2"/>
<path class="tk" d="M410.5 361.9 h5.4"/>
<path class="tk2" d="M413.2 360.3 v3.2"/>
<text class="t" x="412.8" y="341.71" font-size="5.9" text-anchor="middle" transform="rotate(-90 412.8 341.71)">165</text>
<path class="dl" d="M364.8 70.84 V311.47"/>
<path class="tk" d="M362.1 73.04 h5.4"/>
<path class="tk2" d="M364.8 71.44 v3.2"/>
<path class="tk" d="M362.1 119.55 h5.4"/>
<path class="tk2" d="M364.8 117.95 v3.2"/>
<path class="tk" d="M362.1 206.46 h5.4"/>
<path class="tk2" d="M364.8 204.86 v3.2"/>
<path class="tk" d="M362.1 218.7 h5.4"/>
<path class="tk2" d="M364.8 217.1 v3.2"/>
<path class="tk" d="M362.1 226.53 h5.4"/>
<path class="tk2" d="M364.8 224.93 v3.2"/>
<path class="tk" d="M362.1 309.27 h5.4"/>
<path class="tk2" d="M364.8 307.67 v3.2"/>
<text class="t" x="364.4" y="96.3" font-size="5.9" text-anchor="middle" transform="rotate(-90 364.4 96.3)">190</text>
<text class="t" x="364.4" y="163" font-size="5.9" text-anchor="middle" transform="rotate(-90 364.4 163)">355</text>
<text class="t" x="364.4" y="212.58" font-size="5.9" text-anchor="middle" transform="rotate(-90 364.4 212.58)">50</text>
<text class="t" x="364.4" y="222.61" font-size="5.9" text-anchor="middle" transform="rotate(-90 364.4 222.61)">32</text>
<text class="t" x="364.4" y="267.9" font-size="5.9" text-anchor="middle" transform="rotate(-90 364.4 267.9)">338</text>
<path class="dl" d="M388.24 70.84 V208.66"/>
<path class="tk" d="M385.54 73.04 h5.4"/>
<path class="tk2" d="M388.24 71.44 v3.2"/>
<path class="tk" d="M385.54 206.46 h5.4"/>
<path class="tk2" d="M388.24 204.86 v3.2"/>
<text class="t" x="387.84" y="140.75" font-size="5.9" text-anchor="middle" transform="rotate(-90 387.84 140.75)">545</text>
<path class="dl" d="M318.64 129.1 H418.28"/>
<path class="tk" d="M320.84 126.4 v5.4"/>
<path class="tk2" d="M319.24 129.1 h3.2"/>
<path class="tk" d="M333.05 126.4 v5.4"/>
<path class="tk2" d="M331.45 129.1 h3.2"/>
<path class="tk" d="M345.26 126.4 v5.4"/>
<path class="tk2" d="M343.66 129.1 h3.2"/>
<path class="tk" d="M416.08 126.4 v5.4"/>
<path class="tk2" d="M414.48 129.1 h3.2"/>
<text class="t" x="339.16" y="128.7" font-size="5.9" text-anchor="middle">50</text>
<text class="t" x="380.67" y="128.7" font-size="5.9" text-anchor="middle">290</text>
<path class="dl" d="M330.85 136.93 H418.28"/>
<path class="tk" d="M333.05 134.23 v5.4"/>
<path class="tk2" d="M331.45 136.93 h3.2"/>
<path class="tk" d="M416.08 134.23 v5.4"/>
<path class="tk2" d="M414.48 136.93 h3.2"/>
<text class="t" x="374.57" y="136.53" font-size="5.9" text-anchor="middle">340</text>
<path class="dl" d="M426.09 134.73 H478.11"/>
<path class="tk" d="M428.29 132.03 v5.4"/>
<path class="tk2" d="M426.69 134.73 h3.2"/>
<path class="tk" d="M453.2 132.03 v5.4"/>
<path class="tk2" d="M451.6 134.73 h3.2"/>
<path class="tk" d="M475.91 132.03 v5.4"/>
<path class="tk2" d="M474.31 134.73 h3.2"/>
<text class="t" x="440.75" y="134.33" font-size="5.9" text-anchor="middle">102</text>
<text class="t" x="464.56" y="134.33" font-size="5.9" text-anchor="middle">93</text>
<path class="dl" d="M426.09 165.33 H507.42"/>
<path class="tk" d="M428.29 162.63 v5.4"/>
<path class="tk2" d="M426.69 165.33 h3.2"/>
<path class="tk" d="M475.91 162.63 v5.4"/>
<path class="tk2" d="M474.31 165.33 h3.2"/>
<path class="tk" d="M505.22 162.63 v5.4"/>
<path class="tk2" d="M503.62 165.33 h3.2"/>
<text class="t" x="452.1" y="164.93" font-size="5.9" text-anchor="middle">195</text>
<text class="t" x="490.56" y="164.93" font-size="5.9" text-anchor="middle">120</text>
<path class="dl" d="M426.09 173.65 H507.42"/>
<path class="tk" d="M428.29 170.95 v5.4"/>
<path class="tk2" d="M426.69 173.65 h3.2"/>
<path class="tk" d="M505.22 170.95 v5.4"/>
<path class="tk2" d="M503.62 173.65 h3.2"/>
<text class="t" x="467.75" y="173.25" font-size="5.9" text-anchor="middle">315</text>
<path class="dl" d="M460.53 70.84 V479.16"/>
<path class="tk" d="M457.83 73.04 h5.4"/>
<path class="tk2" d="M460.53 71.44 v3.2"/>
<path class="tk" d="M457.83 140.6 h5.4"/>
<path class="tk2" d="M460.53 139 v3.2"/>
<path class="tk" d="M457.83 150.4 h5.4"/>
<path class="tk2" d="M460.53 148.8 v3.2"/>
<path class="tk" d="M457.83 191.77 h5.4"/>
<path class="tk2" d="M460.53 190.17 v3.2"/>
<path class="tk" d="M457.83 204.01 h5.4"/>
<path class="tk2" d="M460.53 202.41 v3.2"/>
<path class="tk" d="M457.83 309.27 h5.4"/>
<path class="tk2" d="M460.53 307.67 v3.2"/>
<path class="tk" d="M457.83 321.51 h5.4"/>
<path class="tk2" d="M460.53 319.91 v3.2"/>
<path class="tk" d="M457.83 361.9 h5.4"/>
<path class="tk2" d="M460.53 360.3 v3.2"/>
<path class="tk" d="M457.83 374.14 h5.4"/>
<path class="tk2" d="M460.53 372.54 v3.2"/>
<path class="tk" d="M457.83 464.72 h5.4"/>
<path class="tk2" d="M460.53 463.12 v3.2"/>
<path class="tk" d="M457.83 476.96 h5.4"/>
<path class="tk2" d="M460.53 475.36 v3.2"/>
<text class="t" x="460.13" y="106.82" font-size="5.9" text-anchor="middle" transform="rotate(-90 460.13 106.82)">276</text>
<text class="t" x="460.13" y="145.5" font-size="5.9" text-anchor="middle" transform="rotate(-90 460.13 145.5)">40</text>
<text class="t" x="460.13" y="197.89" font-size="5.9" text-anchor="middle" transform="rotate(-90 460.13 197.89)">50</text>
<text class="t" x="460.13" y="256.64" font-size="5.9" text-anchor="middle" transform="rotate(-90 460.13 256.64)">430</text>
<text class="t" x="460.13" y="315.39" font-size="5.9" text-anchor="middle" transform="rotate(-90 460.13 315.39)">50</text>
<text class="t" x="460.13" y="341.71" font-size="5.9" text-anchor="middle" transform="rotate(-90 460.13 341.71)">165</text>
<text class="t" x="460.13" y="368.02" font-size="5.9" text-anchor="middle" transform="rotate(-90 460.13 368.02)">50</text>
<text class="t" x="460.13" y="419.43" font-size="5.9" text-anchor="middle" transform="rotate(-90 460.13 419.43)">338</text>
<text class="t" x="460.13" y="470.84" font-size="5.9" text-anchor="middle" transform="rotate(-90 460.13 470.84)">50</text>
<path class="dl" d="M331.55 82.1 H346.76"/>
<path class="tk" d="M333.05 79.4 v5.4"/>
<path class="tk2" d="M331.45 82.1 h3.2"/>
<path class="tk" d="M336.11 79.4 v5.4"/>
<path class="tk2" d="M334.51 82.1 h3.2"/>
<path class="tk" d="M342.21 79.4 v5.4"/>
<path class="tk2" d="M340.61 82.1 h3.2"/>
<path class="tk" d="M345.26 79.4 v5.4"/>
<path class="tk2" d="M343.66 82.1 h3.2"/>
<text class="t" x="331.75" y="84.1" font-size="5.9" text-anchor="end">12.5</text>
<text class="t" x="346.56" y="84.1" font-size="5.9" text-anchor="start">12.5</text>
<text class="t" x="340.36" y="88.3" font-size="5.3" text-anchor="middle" transform="rotate(-90 340.36 88.3)">25</text>
<path class="dl" d="M414.58 101.44 H429.79"/>
<path class="tk" d="M416.08 98.74 v5.4"/>
<path class="tk2" d="M414.48 101.44 h3.2"/>
<path class="tk" d="M419.14 98.74 v5.4"/>
<path class="tk2" d="M417.54 101.44 h3.2"/>
<path class="tk" d="M425.24 98.74 v5.4"/>
<path class="tk2" d="M423.64 101.44 h3.2"/>
<path class="tk" d="M428.29 98.74 v5.4"/>
<path class="tk2" d="M426.69 101.44 h3.2"/>
<text class="t" x="414.78" y="103.44" font-size="5.9" text-anchor="end">12.5</text>
<text class="t" x="429.59" y="103.44" font-size="5.9" text-anchor="start">12.5</text>
<text class="t" x="423.39" y="107.64" font-size="5.3" text-anchor="middle" transform="rotate(-90 423.39 107.64)">25</text>
<path class="dl" d="M474.41 98.01 H489.62"/>
<path class="tk" d="M475.91 95.31 v5.4"/>
<path class="tk2" d="M474.31 98.01 h3.2"/>
<path class="tk" d="M478.96 95.31 v5.4"/>
<path class="tk2" d="M477.36 98.01 h3.2"/>
<path class="tk" d="M485.07 95.31 v5.4"/>
<path class="tk2" d="M483.47 98.01 h3.2"/>
<path class="tk" d="M488.12 95.31 v5.4"/>
<path class="tk2" d="M486.52 98.01 h3.2"/>
<text class="t" x="474.61" y="100.01" font-size="5.9" text-anchor="end">12.5</text>
<text class="t" x="489.42" y="100.01" font-size="5.9" text-anchor="start">12.5</text>
<text class="t" x="483.22" y="104.21" font-size="5.3" text-anchor="middle" transform="rotate(-90 483.22 104.21)">25</text>
<path class="dl" d="M503.72 185.89 H518.93"/>
<path class="tk" d="M505.22 183.19 v5.4"/>
<path class="tk2" d="M503.62 185.89 h3.2"/>
<path class="tk" d="M508.27 183.19 v5.4"/>
<path class="tk2" d="M506.67 185.89 h3.2"/>
<path class="tk" d="M514.37 183.19 v5.4"/>
<path class="tk2" d="M512.77 185.89 h3.2"/>
<path class="tk" d="M517.43 183.19 v5.4"/>
<path class="tk2" d="M515.83 185.89 h3.2"/>
<text class="t" x="503.92" y="187.89" font-size="5.9" text-anchor="end">12.5</text>
<text class="t" x="518.73" y="187.89" font-size="5.9" text-anchor="start">12.5</text>
<text class="t" x="512.52" y="192.09" font-size="5.3" text-anchor="middle" transform="rotate(-90 512.52 192.09)">25</text>
<path class="dl" d="M331.55 242.44 H346.76"/>
<path class="tk" d="M333.05 239.74 v5.4"/>
<path class="tk2" d="M331.45 242.44 h3.2"/>
<path class="tk" d="M336.11 239.74 v5.4"/>
<path class="tk2" d="M334.51 242.44 h3.2"/>
<path class="tk" d="M342.21 239.74 v5.4"/>
<path class="tk2" d="M340.61 242.44 h3.2"/>
<path class="tk" d="M345.26 239.74 v5.4"/>
<path class="tk2" d="M343.66 242.44 h3.2"/>
<text class="t" x="331.75" y="244.44" font-size="5.9" text-anchor="end">12.5</text>
<text class="t" x="346.56" y="244.44" font-size="5.9" text-anchor="start">12.5</text>
<text class="t" x="340.36" y="248.64" font-size="5.3" text-anchor="middle" transform="rotate(-90 340.36 248.64)">25</text>
<path class="dl" d="M414.58 262.27 H429.79"/>
<path class="tk" d="M416.08 259.57 v5.4"/>
<path class="tk2" d="M414.48 262.27 h3.2"/>
<path class="tk" d="M419.14 259.57 v5.4"/>
<path class="tk2" d="M417.54 262.27 h3.2"/>
<path class="tk" d="M425.24 259.57 v5.4"/>
<path class="tk2" d="M423.64 262.27 h3.2"/>
<path class="tk" d="M428.29 259.57 v5.4"/>
<path class="tk2" d="M426.69 262.27 h3.2"/>
<text class="t" x="414.78" y="264.27" font-size="5.9" text-anchor="end">12.5</text>
<text class="t" x="429.59" y="264.27" font-size="5.9" text-anchor="start">12.5</text>
<text class="t" x="423.39" y="268.47" font-size="5.3" text-anchor="middle" transform="rotate(-90 423.39 268.47)">25</text>
<path class="dl" d="M474.41 245.87 H489.62"/>
<path class="tk" d="M475.91 243.17 v5.4"/>
<path class="tk2" d="M474.31 245.87 h3.2"/>
<path class="tk" d="M478.96 243.17 v5.4"/>
<path class="tk2" d="M477.36 245.87 h3.2"/>
<path class="tk" d="M485.07 243.17 v5.4"/>
<path class="tk2" d="M483.47 245.87 h3.2"/>
<path class="tk" d="M488.12 243.17 v5.4"/>
<path class="tk2" d="M486.52 245.87 h3.2"/>
<text class="t" x="474.61" y="247.87" font-size="5.9" text-anchor="end">12.5</text>
<text class="t" x="489.42" y="247.87" font-size="5.9" text-anchor="start">12.5</text>
<text class="t" x="483.22" y="252.07" font-size="5.3" text-anchor="middle" transform="rotate(-90 483.22 252.07)">25</text>
<path class="dl" d="M377.25 59.3 V74.54"/>
<path class="tk" d="M374.55 60.8 h5.4"/>
<path class="tk2" d="M377.25 59.2 v3.2"/>
<path class="tk" d="M374.55 63.86 h5.4"/>
<path class="tk2" d="M377.25 62.26 v3.2"/>
<path class="tk" d="M374.55 69.98 h5.4"/>
<path class="tk2" d="M377.25 68.38 v3.2"/>
<path class="tk" d="M374.55 73.04 h5.4"/>
<path class="tk2" d="M377.25 71.44 v3.2"/>
<text class="t" x="379.25" y="59.5" font-size="5.9" text-anchor="start" transform="rotate(-90 379.25 59.5)">12.5</text>
<text class="t" x="379.25" y="74.34" font-size="5.9" text-anchor="end" transform="rotate(-90 379.25 74.34)">12.5</text>
<text class="t" x="383.75" y="67.92" font-size="5.3" text-anchor="middle" transform="rotate(-90 383.75 67.92)">25</text>
<path class="dl" d="M441.48 307.77 V323.01"/>
<path class="tk" d="M438.78 309.27 h5.4"/>
<path class="tk2" d="M441.48 307.67 v3.2"/>
<path class="tk" d="M438.78 312.33 h5.4"/>
<path class="tk2" d="M441.48 310.73 v3.2"/>
<path class="tk" d="M438.78 318.45 h5.4"/>
<path class="tk2" d="M441.48 316.85 v3.2"/>
<path class="tk" d="M438.78 321.51 h5.4"/>
<path class="tk2" d="M441.48 319.91 v3.2"/>
<text class="t" x="443.48" y="307.97" font-size="5.9" text-anchor="start" transform="rotate(-90 443.48 307.97)">12.5</text>
<text class="t" x="443.48" y="322.81" font-size="5.9" text-anchor="end" transform="rotate(-90 443.48 322.81)">12.5</text>
<text class="t" x="447.98" y="316.39" font-size="5.3" text-anchor="middle" transform="rotate(-90 447.98 316.39)">25</text>
<path class="dl" d="M531.83 307.07 V624.82"/>
<path class="tk" d="M529.13 309.27 h5.4"/>
<path class="tk2" d="M531.83 307.67 v3.2"/>
<path class="tk" d="M529.13 321.51 h5.4"/>
<path class="tk2" d="M531.83 319.91 v3.2"/>
<path class="tk" d="M529.13 361.9 h5.4"/>
<path class="tk2" d="M531.83 360.3 v3.2"/>
<path class="tk" d="M529.13 374.14 h5.4"/>
<path class="tk2" d="M531.83 372.54 v3.2"/>
<path class="tk" d="M529.13 479.41 h5.4"/>
<path class="tk2" d="M531.83 477.81 v3.2"/>
<path class="tk" d="M529.13 491.65 h5.4"/>
<path class="tk2" d="M531.83 490.05 v3.2"/>
<path class="tk" d="M529.13 533.02 h5.4"/>
<path class="tk2" d="M531.83 531.42 v3.2"/>
<path class="tk" d="M529.13 542.81 h5.4"/>
<path class="tk2" d="M531.83 541.21 v3.2"/>
<path class="tk" d="M529.13 610.38 h5.4"/>
<path class="tk2" d="M531.83 608.78 v3.2"/>
<path class="tk" d="M529.13 622.62 h5.4"/>
<path class="tk2" d="M531.83 621.02 v3.2"/>
<text class="t" x="531.43" y="315.39" font-size="5.9" text-anchor="middle" transform="rotate(-90 531.43 315.39)">50</text>
<text class="t" x="531.43" y="341.71" font-size="5.9" text-anchor="middle" transform="rotate(-90 531.43 341.71)">165</text>
<text class="t" x="531.43" y="368.02" font-size="5.9" text-anchor="middle" transform="rotate(-90 531.43 368.02)">50</text>
<text class="t" x="531.43" y="426.78" font-size="5.9" text-anchor="middle" transform="rotate(-90 531.43 426.78)">430</text>
<text class="t" x="531.43" y="485.53" font-size="5.9" text-anchor="middle" transform="rotate(-90 531.43 485.53)">50</text>
<text class="t" x="531.43" y="512.33" font-size="5.9" text-anchor="middle" transform="rotate(-90 531.43 512.33)">186</text>
<text class="t" x="531.43" y="537.92" font-size="5.9" text-anchor="middle" transform="rotate(-90 531.43 537.92)">40</text>
<text class="t" x="531.43" y="577.59" font-size="5.9" text-anchor="middle" transform="rotate(-90 531.43 577.59)">270</text>
<text class="t" x="531.43" y="616.5" font-size="5.9" text-anchor="middle" transform="rotate(-90 531.43 616.5)">50</text>
<path class="dl" d="M428.53 451.5 H575.79"/>
<path class="tk" d="M430.73 448.8 v5.4"/>
<path class="tk2" d="M429.13 451.5 h3.2"/>
<path class="tk" d="M442.21 448.8 v5.4"/>
<path class="tk2" d="M440.61 451.5 h3.2"/>
<path class="tk" d="M501.55 448.8 v5.4"/>
<path class="tk2" d="M499.95 451.5 h3.2"/>
<path class="tk" d="M513.76 448.8 v5.4"/>
<path class="tk2" d="M512.16 451.5 h3.2"/>
<path class="tk" d="M561.38 448.8 v5.4"/>
<path class="tk2" d="M559.78 451.5 h3.2"/>
<path class="tk" d="M573.59 448.8 v5.4"/>
<path class="tk2" d="M571.99 451.5 h3.2"/>
<text class="t" x="436.47" y="451.1" font-size="5.9" text-anchor="middle">47</text>
<text class="t" x="471.88" y="451.1" font-size="5.9" text-anchor="middle">243</text>
<text class="t" x="507.66" y="451.1" font-size="5.9" text-anchor="middle">50</text>
<text class="t" x="537.57" y="451.1" font-size="5.9" text-anchor="middle">195</text>
<text class="t" x="567.49" y="451.1" font-size="5.9" text-anchor="middle">50</text>
<path class="dl" d="M441.97 474.76 V612.58"/>
<path class="tk" d="M439.27 476.96 h5.4"/>
<path class="tk2" d="M441.97 475.36 v3.2"/>
<path class="tk" d="M439.27 563.86 h5.4"/>
<path class="tk2" d="M441.97 562.26 v3.2"/>
<path class="tk" d="M439.27 610.38 h5.4"/>
<path class="tk2" d="M441.97 608.78 v3.2"/>
<text class="t" x="441.57" y="520.41" font-size="5.9" text-anchor="middle" transform="rotate(-90 441.57 520.41)">355</text>
<text class="t" x="441.57" y="587.12" font-size="5.9" text-anchor="middle" transform="rotate(-90 441.57 587.12)">190</text>
<path class="dl" d="M461.02 474.76 V612.58"/>
<path class="tk" d="M458.32 476.96 h5.4"/>
<path class="tk2" d="M461.02 475.36 v3.2"/>
<path class="tk" d="M458.32 610.38 h5.4"/>
<path class="tk2" d="M461.02 608.78 v3.2"/>
<text class="t" x="460.62" y="543.67" font-size="5.9" text-anchor="middle" transform="rotate(-90 460.62 543.67)">545</text>
<path class="dl" d="M416.32 528.37 H503.75"/>
<path class="tk" d="M418.52 525.67 v5.4"/>
<path class="tk2" d="M416.92 528.37 h3.2"/>
<path class="tk" d="M501.55 525.67 v5.4"/>
<path class="tk2" d="M499.95 528.37 h3.2"/>
<text class="t" x="460.04" y="527.97" font-size="5.9" text-anchor="middle">340</text>
<path class="dl" d="M416.32 557.74 H503.75"/>
<path class="tk" d="M418.52 555.04 v5.4"/>
<path class="tk2" d="M416.92 557.74 h3.2"/>
<path class="tk" d="M430.73 555.04 v5.4"/>
<path class="tk2" d="M429.13 557.74 h3.2"/>
<path class="tk" d="M501.55 555.04 v5.4"/>
<path class="tk2" d="M499.95 557.74 h3.2"/>
<text class="t" x="424.63" y="557.34" font-size="5.9" text-anchor="middle">50</text>
<text class="t" x="466.14" y="557.34" font-size="5.9" text-anchor="middle">290</text>
<path class="dl" d="M511.56 509.76 H592.89"/>
<path class="tk" d="M513.76 507.06 v5.4"/>
<path class="tk2" d="M512.16 509.76 h3.2"/>
<path class="tk" d="M590.69 507.06 v5.4"/>
<path class="tk2" d="M589.09 509.76 h3.2"/>
<text class="t" x="552.22" y="509.36" font-size="5.9" text-anchor="middle">315</text>
<path class="dl" d="M511.56 519.07 H592.89"/>
<path class="tk" d="M513.76 516.37 v5.4"/>
<path class="tk2" d="M512.16 519.07 h3.2"/>
<path class="tk" d="M561.38 516.37 v5.4"/>
<path class="tk2" d="M559.78 519.07 h3.2"/>
<path class="tk" d="M590.69 516.37 v5.4"/>
<path class="tk2" d="M589.09 519.07 h3.2"/>
<text class="t" x="537.57" y="518.67" font-size="5.9" text-anchor="middle">195</text>
<text class="t" x="576.03" y="518.67" font-size="5.9" text-anchor="middle">120</text>
<path class="dl" d="M511.56 552.36 H563.58"/>
<path class="tk" d="M513.76 549.66 v5.4"/>
<path class="tk2" d="M512.16 552.36 h3.2"/>
<path class="tk" d="M538.67 549.66 v5.4"/>
<path class="tk2" d="M537.07 552.36 h3.2"/>
<path class="tk" d="M561.38 549.66 v5.4"/>
<path class="tk2" d="M559.78 552.36 h3.2"/>
<text class="t" x="526.22" y="551.96" font-size="5.9" text-anchor="middle">103</text>
<text class="t" x="550.03" y="551.96" font-size="5.9" text-anchor="middle">98</text>
<path class="dl" d="M417.02 435.59 H432.23"/>
<path class="tk" d="M418.52 432.89 v5.4"/>
<path class="tk2" d="M416.92 435.59 h3.2"/>
<path class="tk" d="M421.58 432.89 v5.4"/>
<path class="tk2" d="M419.98 435.59 h3.2"/>
<path class="tk" d="M427.68 432.89 v5.4"/>
<path class="tk2" d="M426.08 435.59 h3.2"/>
<path class="tk" d="M430.73 432.89 v5.4"/>
<path class="tk2" d="M429.13 435.59 h3.2"/>
<text class="t" x="417.22" y="437.59" font-size="5.9" text-anchor="end">12.5</text>
<text class="t" x="432.03" y="437.59" font-size="5.9" text-anchor="start">12.5</text>
<text class="t" x="425.83" y="441.79" font-size="5.3" text-anchor="middle" transform="rotate(-90 425.83 441.79)">25</text>
<path class="dl" d="M500.05 386.63 H515.26"/>
<path class="tk" d="M501.55 383.93 v5.4"/>
<path class="tk2" d="M499.95 386.63 h3.2"/>
<path class="tk" d="M504.61 383.93 v5.4"/>
<path class="tk2" d="M503.01 386.63 h3.2"/>
<path class="tk" d="M510.71 383.93 v5.4"/>
<path class="tk2" d="M509.11 386.63 h3.2"/>
<path class="tk" d="M513.76 383.93 v5.4"/>
<path class="tk2" d="M512.16 386.63 h3.2"/>
<text class="t" x="500.25" y="388.63" font-size="5.9" text-anchor="end">12.5</text>
<text class="t" x="515.06" y="388.63" font-size="5.9" text-anchor="start">12.5</text>
<text class="t" x="508.86" y="392.83" font-size="5.3" text-anchor="middle" transform="rotate(-90 508.86 392.83)">25</text>
<path class="dl" d="M559.88 386.63 H575.09"/>
<path class="tk" d="M561.38 383.93 v5.4"/>
<path class="tk2" d="M559.78 386.63 h3.2"/>
<path class="tk" d="M564.43 383.93 v5.4"/>
<path class="tk2" d="M562.83 386.63 h3.2"/>
<path class="tk" d="M570.54 383.93 v5.4"/>
<path class="tk2" d="M568.94 386.63 h3.2"/>
<path class="tk" d="M573.59 383.93 v5.4"/>
<path class="tk2" d="M571.99 386.63 h3.2"/>
<text class="t" x="560.08" y="388.63" font-size="5.9" text-anchor="end">12.5</text>
<text class="t" x="574.89" y="388.63" font-size="5.9" text-anchor="start">12.5</text>
<text class="t" x="568.69" y="392.83" font-size="5.3" text-anchor="middle" transform="rotate(-90 568.69 392.83)">25</text>
<path class="dl" d="M404.81 486.26 H420.02"/>
<path class="tk" d="M406.31 483.56 v5.4"/>
<path class="tk2" d="M404.71 486.26 h3.2"/>
<path class="tk" d="M409.37 483.56 v5.4"/>
<path class="tk2" d="M407.77 486.26 h3.2"/>
<path class="tk" d="M415.47 483.56 v5.4"/>
<path class="tk2" d="M413.87 486.26 h3.2"/>
<path class="tk" d="M418.52 483.56 v5.4"/>
<path class="tk2" d="M416.92 486.26 h3.2"/>
<text class="t" x="405.01" y="488.26" font-size="5.9" text-anchor="end">12.5</text>
<text class="t" x="419.82" y="488.26" font-size="5.9" text-anchor="start">12.5</text>
<text class="t" x="413.62" y="492.46" font-size="5.3" text-anchor="middle" transform="rotate(-90 413.62 492.46)">25</text>
<path class="dl" d="M559.88 577.82 H575.09"/>
<path class="tk" d="M561.38 575.12 v5.4"/>
<path class="tk2" d="M559.78 577.82 h3.2"/>
<path class="tk" d="M564.43 575.12 v5.4"/>
<path class="tk2" d="M562.83 577.82 h3.2"/>
<path class="tk" d="M570.54 575.12 v5.4"/>
<path class="tk2" d="M568.94 577.82 h3.2"/>
<path class="tk" d="M573.59 575.12 v5.4"/>
<path class="tk2" d="M571.99 577.82 h3.2"/>
<text class="t" x="560.08" y="579.82" font-size="5.9" text-anchor="end">12.5</text>
<text class="t" x="574.89" y="579.82" font-size="5.9" text-anchor="start">12.5</text>
<text class="t" x="568.69" y="584.02" font-size="5.3" text-anchor="middle" transform="rotate(-90 568.69 584.02)">25</text>
<path class="dl" d="M500.05 586.39 H515.26"/>
<path class="tk" d="M501.55 583.69 v5.4"/>
<path class="tk2" d="M499.95 586.39 h3.2"/>
<path class="tk" d="M504.61 583.69 v5.4"/>
<path class="tk2" d="M503.01 586.39 h3.2"/>
<path class="tk" d="M510.71 583.69 v5.4"/>
<path class="tk2" d="M509.11 586.39 h3.2"/>
<path class="tk" d="M513.76 583.69 v5.4"/>
<path class="tk2" d="M512.16 586.39 h3.2"/>
<text class="t" x="500.25" y="588.39" font-size="5.9" text-anchor="end">12.5</text>
<text class="t" x="515.06" y="588.39" font-size="5.9" text-anchor="start">12.5</text>
<text class="t" x="508.86" y="592.59" font-size="5.3" text-anchor="middle" transform="rotate(-90 508.86 592.59)">25</text>
<path class="dl" d="M481.28 360.4 V375.64"/>
<path class="tk" d="M478.58 361.9 h5.4"/>
<path class="tk2" d="M481.28 360.3 v3.2"/>
<path class="tk" d="M478.58 364.96 h5.4"/>
<path class="tk2" d="M481.28 363.36 v3.2"/>
<path class="tk" d="M478.58 371.08 h5.4"/>
<path class="tk2" d="M481.28 369.48 v3.2"/>
<path class="tk" d="M478.58 374.14 h5.4"/>
<path class="tk2" d="M481.28 372.54 v3.2"/>
<text class="t" x="483.28" y="360.6" font-size="5.9" text-anchor="start" transform="rotate(-90 483.28 360.6)">12.5</text>
<text class="t" x="483.28" y="375.44" font-size="5.9" text-anchor="end" transform="rotate(-90 483.28 375.44)">12.5</text>
<text class="t" x="487.78" y="369.02" font-size="5.3" text-anchor="middle" transform="rotate(-90 487.78 369.02)">25</text>
<path class="dl" d="M553.32 477.91 V493.15"/>
<path class="tk" d="M550.62 479.41 h5.4"/>
<path class="tk2" d="M553.32 477.81 v3.2"/>
<path class="tk" d="M550.62 482.47 h5.4"/>
<path class="tk2" d="M553.32 480.87 v3.2"/>
<path class="tk" d="M550.62 488.59 h5.4"/>
<path class="tk2" d="M553.32 486.99 v3.2"/>
<path class="tk" d="M550.62 491.65 h5.4"/>
<path class="tk2" d="M553.32 490.05 v3.2"/>
<text class="t" x="555.32" y="478.11" font-size="5.9" text-anchor="start" transform="rotate(-90 555.32 478.11)">12.5</text>
<text class="t" x="555.32" y="492.95" font-size="5.9" text-anchor="end" transform="rotate(-90 555.32 492.95)">12.5</text>
<text class="t" x="559.82" y="486.53" font-size="5.3" text-anchor="middle" transform="rotate(-90 559.82 486.53)">25</text>
<path class="dl" d="M551.37 608.88 V624.12"/>
<path class="tk" d="M548.67 610.38 h5.4"/>
<path class="tk2" d="M551.37 608.78 v3.2"/>
<path class="tk" d="M548.67 613.44 h5.4"/>
<path class="tk2" d="M551.37 611.84 v3.2"/>
<path class="tk" d="M548.67 619.56 h5.4"/>
<path class="tk2" d="M551.37 617.96 v3.2"/>
<path class="tk" d="M548.67 622.62 h5.4"/>
<path class="tk2" d="M551.37 621.02 v3.2"/>
<text class="t" x="553.37" y="609.08" font-size="5.9" text-anchor="start" transform="rotate(-90 553.37 609.08)">12.5</text>
<text class="t" x="553.37" y="623.92" font-size="5.9" text-anchor="end" transform="rotate(-90 553.37 623.92)">12.5</text>
<text class="t" x="557.87" y="617.5" font-size="5.3" text-anchor="middle" transform="rotate(-90 557.87 617.5)">25</text>
</g>
<g id="sect">
<path d="M271.6 168.5 V178 H526.2 V168.5" fill="none" stroke="#0c0c0c" stroke-width="1.25" stroke-dasharray="5.8 4"/>
<text class="t" x="271.6" y="160.3" font-size="9.4" text-anchor="middle">A</text>
<path d="M271.6 163.5 l5 4.6 h-10 z M271.6 165.7 l2.4 2.2 h-4.8 z" fill="none" stroke="#111" stroke-width="0.9"/>
<text class="t" x="526.2" y="162" font-size="9.4" text-anchor="middle">A</text>
<path d="M526.2 165.2 l5 4.6 h-10 z M526.2 167.4 l2.4 2.2 h-4.8 z" fill="none" stroke="#111" stroke-width="0.9"/>
</g>
<g id="compass" transform="translate(149.2 687.8)">
<g transform="rotate(45)"><path d="M0 -20.5 L3.2 -4.5 L0 0 Z" fill="#2a2a2a"/><path d="M0 -20.5 L-3.2 -4.5 L0 0 Z" fill="#666"/></g>
<g transform="rotate(135)"><path d="M0 -20.5 L3.2 -4.5 L0 0 Z" fill="#2a2a2a"/><path d="M0 -20.5 L-3.2 -4.5 L0 0 Z" fill="#666"/></g>
<g transform="rotate(225)"><path d="M0 -20.5 L3.2 -4.5 L0 0 Z" fill="#2a2a2a"/><path d="M0 -20.5 L-3.2 -4.5 L0 0 Z" fill="#666"/></g>
<g transform="rotate(315)"><path d="M0 -20.5 L3.2 -4.5 L0 0 Z" fill="#2a2a2a"/><path d="M0 -20.5 L-3.2 -4.5 L0 0 Z" fill="#666"/></g>
<g transform="rotate(0)"><path d="M0 -25.5 L4 -4.6 L0 0 Z" fill="#1e1e1e"/><path d="M0 -25.5 L-4 -4.6 L0 0 Z" fill="#f4f4f4" stroke="#222" stroke-width="0.7"/><path d="M0 -25 V0" stroke="#222" stroke-width="0.6"/></g>
<g transform="rotate(90)"><path d="M0 -25.5 L4 -4.6 L0 0 Z" fill="#1e1e1e"/><path d="M0 -25.5 L-4 -4.6 L0 0 Z" fill="#f4f4f4" stroke="#222" stroke-width="0.7"/><path d="M0 -25 V0" stroke="#222" stroke-width="0.6"/></g>
<g transform="rotate(180)"><path d="M0 -25.5 L4 -4.6 L0 0 Z" fill="#1e1e1e"/><path d="M0 -25.5 L-4 -4.6 L0 0 Z" fill="#f4f4f4" stroke="#222" stroke-width="0.7"/><path d="M0 -25 V0" stroke="#222" stroke-width="0.6"/></g>
<g transform="rotate(270)"><path d="M0 -25.5 L4 -4.6 L0 0 Z" fill="#1e1e1e"/><path d="M0 -25.5 L-4 -4.6 L0 0 Z" fill="#f4f4f4" stroke="#222" stroke-width="0.7"/><path d="M0 -25 V0" stroke="#222" stroke-width="0.6"/></g>
<text class="tb" x="0" y="-27.6" font-size="6.8" text-anchor="middle">Z</text>
<text class="tb" x="30.6" y="2.8" font-size="7.4" text-anchor="middle">S</text>
<path d="M-3 26.8 v2.8 M3 26.8 v2.8 M-3 28.2 h6" stroke="#1c1c1c" stroke-width="1.1" fill="none"/>
<path d="M-32.4 -2.6 v3.6 M-32.4 -0.2 h5.4 M-27 -2.4 v2.2" stroke="#1c1c1c" stroke-width="1.2" fill="none"/>
</g>
</g>
<g id="wm2">
<rect x="262.2" y="368" width="187.2" height="19.6" fill="#b8b0a8" fill-opacity="0.7"/>
<text x="265.8" y="382.2" font-family="Liberation Sans, sans-serif" font-size="11.4" fill="#fff" fill-opacity="0.9" textLength="180" lengthAdjust="spacing">RINA NEKRETNINE</text>
<text x="295.7" y="448.8" font-family="Liberation Sans, sans-serif" font-size="10" fill="#c9c9c9" textLength="121.2" lengthAdjust="spacing">REAL ESTATE AGENCY</text>
</g>
</svg>
</body></html>
